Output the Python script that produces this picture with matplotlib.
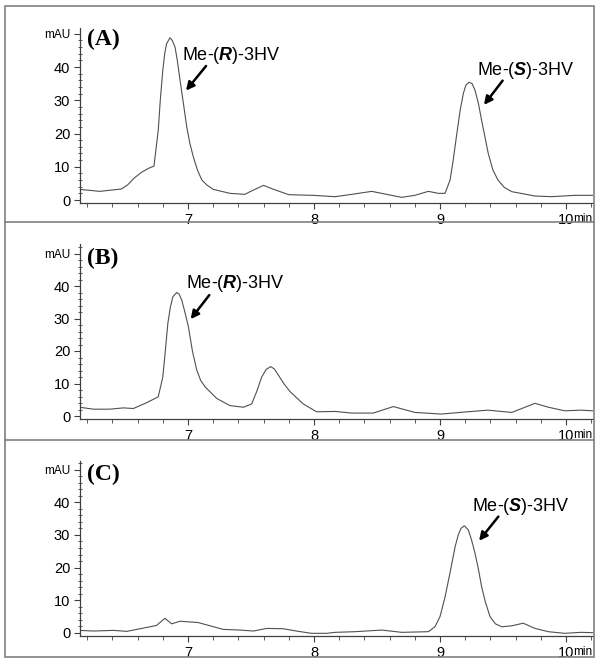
"""HPLC chromatograms of Me-(R)-3HV / Me-(S)-3HV, three panels (A)-(C)."""
import matplotlib
matplotlib.use("Agg")
import matplotlib.pyplot as plt
from matplotlib.lines import Line2D
from matplotlib.patches import Rectangle
from matplotlib.ticker import MultipleLocator, FixedLocator

plt.rcParams.update({"font.family": "Liberation Sans", "mathtext.fontset": "custom",
                     "mathtext.rm": "Liberation Sans", "mathtext.bf": "Liberation Sans:italic:bold"})

# ---- traces (time in min, signal in mAU) ----
a_time = [6.14, 6.30, 6.47, 6.52, 6.57, 6.63, 6.685, 6.73, 6.764, 6.78, 6.80, 6.815, 6.83, 6.857,
          6.875, 6.897, 6.915, 6.937, 6.96, 6.99, 7.015, 7.042, 7.075, 7.11, 7.15, 7.20, 7.333,
          7.45, 7.52, 7.60, 7.68, 7.80, 7.99, 8.167, 8.30, 8.458, 8.563, 8.696, 8.80, 8.907,
          8.987, 9.04, 9.08, 9.105, 9.13, 9.16, 9.185, 9.205, 9.23, 9.255, 9.278, 9.305, 9.33,
          9.383, 9.42, 9.46, 9.51, 9.57, 9.754, 9.886, 10.07, 10.21]
a_mau = [3.2, 2.6, 3.3, 4.5, 6.5, 8.3, 9.5, 10.2, 21, 30, 39, 44, 47, 48.8,
         48, 46, 42, 36, 30, 22, 17, 13, 9, 6, 4.5, 3.2, 2.0,
         1.7, 3.0, 4.4, 3.2, 1.6, 1.4, 1.0, 1.7, 2.6, 1.8, 0.8, 1.4, 2.6,
         2.0, 2.0, 6, 12, 19, 27, 32, 34.5, 35.4, 35, 33, 29, 24,
         14, 9, 6, 3.8, 2.5, 1.2, 1.0, 1.4, 1.4]

b_time = [6.14, 6.25, 6.38, 6.486, 6.566, 6.672, 6.764, 6.80, 6.82, 6.84, 6.86, 6.88, 6.91,
          6.93, 6.95, 6.975, 7.003, 7.035, 7.069, 7.10, 7.135, 7.228, 7.333, 7.44, 7.505,
          7.545, 7.585, 7.62, 7.656, 7.685, 7.717, 7.76, 7.81, 7.915, 8.02, 8.167, 8.30, 8.47,
          8.63, 8.80, 9.01, 9.22, 9.38, 9.57, 9.754, 9.86, 9.99, 10.12, 10.21]
b_mau = [2.7, 2.1, 2.1, 2.5, 2.3, 4.1, 5.9, 12, 20, 28.5, 33.5, 36.7, 38,
         37.5, 35.7, 32, 27.5, 20, 14.2, 11, 9, 5.4, 3.2, 2.7, 3.7,
         7.5, 12, 14.3, 15.2, 14.5, 12.6, 10, 7.5, 3.7, 1.3, 1.4, 0.9, 0.9,
         2.9, 1.1, 0.6, 1.3, 1.8, 1.1, 3.9, 2.7, 1.6, 1.8, 1.6]

c_time = [6.14, 6.25, 6.41, 6.513, 6.62, 6.75, 6.817, 6.87, 6.937, 7.08, 7.175, 7.28, 7.413,
          7.52, 7.625, 7.757, 7.86, 7.98, 8.10, 8.167, 8.325, 8.537, 8.696, 8.907, 8.96, 9.0,
          9.04, 9.08, 9.12, 9.145, 9.167, 9.193, 9.225, 9.25, 9.278, 9.305, 9.33, 9.36, 9.397,
          9.44, 9.49, 9.57, 9.66, 9.754, 9.86, 9.99, 10.12, 10.21]
c_mau = [0.8, 0.6, 0.8, 0.5, 1.3, 2.3, 4.5, 2.8, 3.6, 3.2, 2.2, 1.1, 0.9,
         0.6, 1.4, 1.3, 0.6, -0.1, -0.1, 0.2, 0.4, 0.9, 0.2, 0.4, 1.9, 5,
         11, 18.5, 26.4, 30, 32, 32.8, 31.5, 28.5, 24.4, 19.5, 14.2, 9.5, 5,
         2.8, 1.9, 2.2, 3.0, 1.4, 0.4, -0.1, 0.2, 0.1]

panel_labels = ["(A)", "(B)", "(C)"]
y_ticks = [0, 10, 20, 30, 40, 50]
y_ticklabels = ["0", "10", "20", "30", "40", "mAU"]
x_ticks = [7, 8, 9, 10]
x_ticklabels = ["7", "8", "9", "10"]

# peak annotations per panel: (text, text xy, arrow tail, arrow head)
notes = [
    [(r"Me-($\mathbf{R}$)-3HV", (6.95, 43.6), (7.143, 40.3), (6.984, 32.9)),
     (r"Me-($\mathbf{S}$)-3HV", (9.29, 39.0), (9.497, 35.9), (9.349, 28.6))],
    [(r"Me-($\mathbf{R}$)-3HV", (6.984, 40.8), (7.169, 37.2), (7.021, 29.8))],
    [(r"Me-($\mathbf{S}$)-3HV", (9.25, 38.6), (9.463, 35.6), (9.31, 28.2))],
]

W, H = 600, 662
fig = plt.figure(figsize=(W / 100, H / 100), dpi=100)

# outer frame + panel separators (pixel coords -> figure fraction)
fig.add_artist(Rectangle((5 / W, 1 - 657 / H), 589 / W, 651 / H, transform=fig.transFigure,
                         fill=False, ec="#808080", lw=1.2))
for ys in (222, 440):
    fig.add_artist(Line2D([5 / W, 594 / W], [1 - ys / H] * 2, transform=fig.transFigure,
                          color="#808080", lw=1.2))

zero_px = [200, 416, 633]       # pixel row of 0 mAU in each panel
scale = [3.325, 3.25, 3.27]     # pixels per mAU
traces = [(a_time, a_mau), (b_time, b_mau), (c_time, c_mau)]

for i, (t, v) in enumerate(traces):
    y0, s = zero_px[i], scale[i]
    bot, top = y0 + 3, y0 - 172
    ax = fig.add_axes([80 / W, 1 - bot / H, 513 / W, (bot - top) / H])
    ax.plot(t, v, color="#505050", lw=0.8)
    ax.set_xlim(7 - 108 / 126, 10 + 27 / 126)
    ax.set_ylim(-3 / s, 172 / s)
    for sp in ("top", "right"):
        ax.spines[sp].set_visible(False)
    for sp in ("left", "bottom"):
        ax.spines[sp].set_color("#404040"); ax.spines[sp].set_linewidth(0.9)

    ax.yaxis.set_major_locator(FixedLocator(y_ticks))
    ax.set_yticklabels(y_ticklabels)
    ax.yaxis.set_minor_locator(MultipleLocator(2))
    ax.xaxis.set_major_locator(FixedLocator(x_ticks))
    ax.set_xticklabels(x_ticklabels)
    ax.xaxis.set_minor_locator(MultipleLocator(0.2))
    ax.tick_params(axis="both", which="major", direction="out", length=4, width=0.8,
                   color="#404040", labelsize=10.5, pad=3)
    ax.tick_params(axis="y", which="minor", direction="inout", length=3, width=0.6, color="#404040")
    ax.tick_params(axis="x", which="minor", direction="out", length=3, width=0.6, color="#404040")
    ax.get_yticklabels()[-1].set_fontsize(8.5)
    # "min" unit right of the 10 tick label, on its baseline
    ax.annotate("min", xy=(10.055, 0), xycoords=("data", "axes fraction"), xytext=(0, -13.8),
                textcoords="offset points", fontsize=8.5, ha="left", va="baseline")

    ax.text(6.2, 48.4, panel_labels[i], family="Liberation Serif", weight="bold",
            fontsize=17, ha="left", va="center")
    for txt, xy, tail, head in notes[i]:
        ax.text(xy[0], xy[1], txt, fontsize=13, ha="left", va="center")
        ax.annotate("", xy=head, xytext=tail,
                    arrowprops=dict(arrowstyle="-|>", color="black", lw=1.8, mutation_scale=12,
                                    shrinkA=0, shrinkB=0))

fig.savefig("out.png", dpi=100)
